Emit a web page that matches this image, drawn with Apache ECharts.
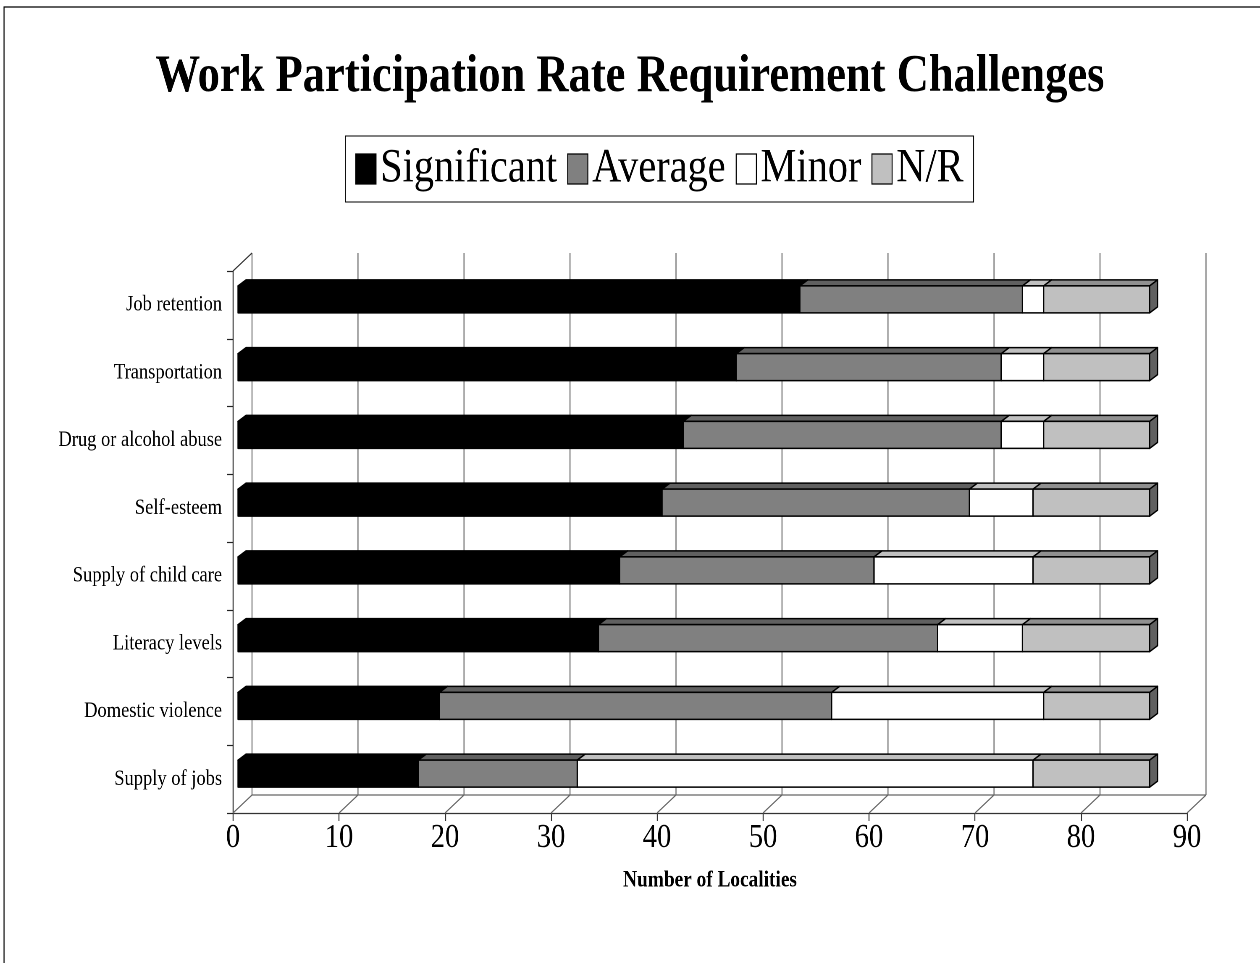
<!DOCTYPE html>
<html>
<head>
<meta charset="utf-8">
<script src="https://cdn.jsdelivr.net/npm/echarts@6/dist/echarts.min.js"></script>
<style>
  html, body { margin: 0; padding: 0; background: #fff; overflow: hidden; }
  /* The chart is laid out on a wider canvas and squeezed horizontally,
     which gives the condensed Times-style lettering. */
  #chart { width: 1500px; height: 963px; transform: scaleX(0.84); transform-origin: 0 0; }
</style>
</head>
<body>
<div id="chart"></div>
<script>
// ---- data ----
const categories = [
  'Job retention', 'Transportation', 'Drug or alcohol abuse', 'Self-esteem',
  'Supply of child care', 'Literacy levels', 'Domestic violence', 'Supply of jobs'
];
const significant = [53, 47, 42, 40, 36, 34, 19, 17];
const average     = [21, 25, 30, 29, 24, 32, 37, 15];
const minor       = [ 2,  4,  4,  6, 15,  8, 20, 43];
const notReported = [10, 10, 10, 11, 11, 12, 10, 11];
const tickValues  = [0, 10, 20, 30, 40, 50, 60, 70, 80, 90];
const seriesNames = ['Significant', 'Average', 'Minor', 'N/R'];

// ---- 3D look ----
const FRONT = ['#000000', '#808080', '#ffffff', '#c0c0c0'];
const TOP   = ['#000000', '#606060', '#c0c0c0', '#909090'];
const SIDE  = '#606060';
const WALL_DX = 22.6, WALL_DY = -18;   // back wall offset from front plane
const FACE_DX = 6, FACE_DY = -5.5;     // bar front face offset
const BAR_H = 27, DEPTH_DX = 9.5, DEPTH_DY = -6;
const FONT = '"Liberation Serif", "Times New Roman", serif';

const valueSets = [significant, average, minor, notReported];

// stacked segments [category index, start, end]
function segments(k) {
  return categories.map((c, i) => {
    let start = 0;
    for (let j = 0; j < k; j++) start += valueSets[j][i];
    return [i, start, start + valueSets[k][i]];
  });
}

function renderSegment(k) {
  return function (params, api) {
    const cat = api.value(0), v0 = api.value(1), v1 = api.value(2);
    const p0 = api.coord([v0, cat]), p1 = api.coord([v1, cat]);
    const x0 = p0[0] + FACE_DX, x1 = p1[0] + FACE_DX;
    const yc = p0[1] + FACE_DY;
    const yt = yc - BAR_H / 2, yb = yc + BAR_H / 2;
    const stroke = { stroke: '#000', lineWidth: 1.5, lineJoin: 'round' };
    const children = [
      {
        type: 'polygon',
        shape: { points: [[x0, yt], [x1, yt], [x1 + DEPTH_DX, yt + DEPTH_DY], [x0 + DEPTH_DX, yt + DEPTH_DY]] },
        style: Object.assign({ fill: TOP[k] }, stroke)
      },
      {
        type: 'rect',
        shape: { x: x0, y: yt, width: x1 - x0, height: BAR_H },
        style: Object.assign({ fill: FRONT[k] }, stroke)
      }
    ];
    if (k === valueSets.length - 1) {
      children.push({
        type: 'polygon',
        shape: { points: [[x1, yt], [x1 + DEPTH_DX, yt + DEPTH_DY], [x1 + DEPTH_DX, yb + DEPTH_DY], [x1, yb]] },
        style: Object.assign({ fill: SIDE }, stroke)
      });
    }
    return { type: 'group', children };
  };
}

// back wall gridlines, floor diagonals and wall edges
function renderFrame(params, api) {
  const cs = params.coordSys;
  const top = cs.y, bottom = cs.y + cs.height;
  const v = api.value(0);
  const fx = api.coord([v, 0])[0];
  const bx = fx + WALL_DX;
  const line = { stroke: '#666', lineWidth: 1.2 };
  const children = [
    { type: 'line', shape: { x1: bx, y1: top + WALL_DY, x2: bx, y2: bottom + WALL_DY }, style: line },
    { type: 'line', shape: { x1: fx, y1: bottom, x2: bx, y2: bottom + WALL_DY }, style: line }
  ];
  if (params.dataIndex === 0) {
    const endX = api.coord([tickValues[tickValues.length - 1], 0])[0] + WALL_DX;
    children.push(
      { type: 'line', shape: { x1: bx, y1: bottom + WALL_DY, x2: endX, y2: bottom + WALL_DY }, style: line },
      { type: 'line', shape: { x1: fx, y1: top, x2: bx, y2: top + WALL_DY }, style: { stroke: '#333', lineWidth: 1.2 } }
    );
  }
  return { type: 'group', children };
}

const chart = echarts.init(document.getElementById('chart'), null, { renderer: 'canvas', devicePixelRatio: 2 });

const barSeries = seriesNames.map((name, k) => ({
  name,
  type: 'custom',
  renderItem: renderSegment(k),
  clip: false,
  z: 3,
  itemStyle: { color: FRONT[k], borderColor: '#000', borderWidth: 1 },
  encode: { x: [1, 2], y: 0 },
  data: segments(k),
  silent: true
}));

chart.setOption({
  animation: false,
  backgroundColor: '#fff',
  title: {
    text: 'Work Participation Rate Requirement Challenges',
    left: 'center',
    top: 46,
    textStyle: { fontFamily: FONT, fontSize: 53, fontWeight: 'bold', color: '#000' }
  },
  legend: {
    left: 411,
    top: 136,
    orient: 'horizontal',
    selectedMode: false,
    borderColor: '#000',
    borderWidth: 1,
    padding: [9, 12],
    itemGap: 12,
    itemWidth: 24,
    itemHeight: 30,
    textStyle: { fontFamily: FONT, fontSize: 48, color: '#000' },
    data: seriesNames.map((name, k) => ({
      name, icon: 'rect',
      itemStyle: { color: FRONT[k], borderColor: '#000', borderWidth: 1.2 }
    }))
  },
  grid: { left: 277.4, right: 86.9, top: 271, bottom: 150, containLabel: false },
  xAxis: {
    type: 'value',
    min: 0, max: 90, interval: 10,
    name: 'Number of Localities',
    nameLocation: 'middle',
    nameGap: 56,
    nameTextStyle: { fontFamily: FONT, fontSize: 23, fontWeight: 'bold', color: '#000' },
    axisLine: { show: true, lineStyle: { color: '#333', width: 1.2 } },
    axisTick: { show: true, length: 8, lineStyle: { color: '#333', width: 1.2 } },
    axisLabel: { fontFamily: FONT, fontSize: 34, color: '#000', margin: 8 },
    splitLine: { show: false }
  },
  yAxis: {
    type: 'category',
    inverse: true,
    data: categories,
    axisLine: { show: true, lineStyle: { color: '#222', width: 1.2 } },
    axisTick: { show: true, length: 7, lineStyle: { color: '#222', width: 1.2 } },
    axisLabel: { fontFamily: FONT, fontSize: 22, color: '#000', margin: 13 },
    splitLine: { show: false }
  },
  graphic: [{
    type: 'rect',
    shape: { x: 4.8, y: 7, width: 1600, height: 1100 },
    style: { fill: null, stroke: '#000', lineWidth: 1.2 },
    silent: true,
    z: 0
  }],
  series: [{
    name: 'frame',
    type: 'custom',
    renderItem: renderFrame,
    clip: false,
    z: 1,
    silent: true,
    encode: { x: 0 },
    data: tickValues.map(v => [v])
  }].concat(barSeries)
});
</script>
</body>
</html>
